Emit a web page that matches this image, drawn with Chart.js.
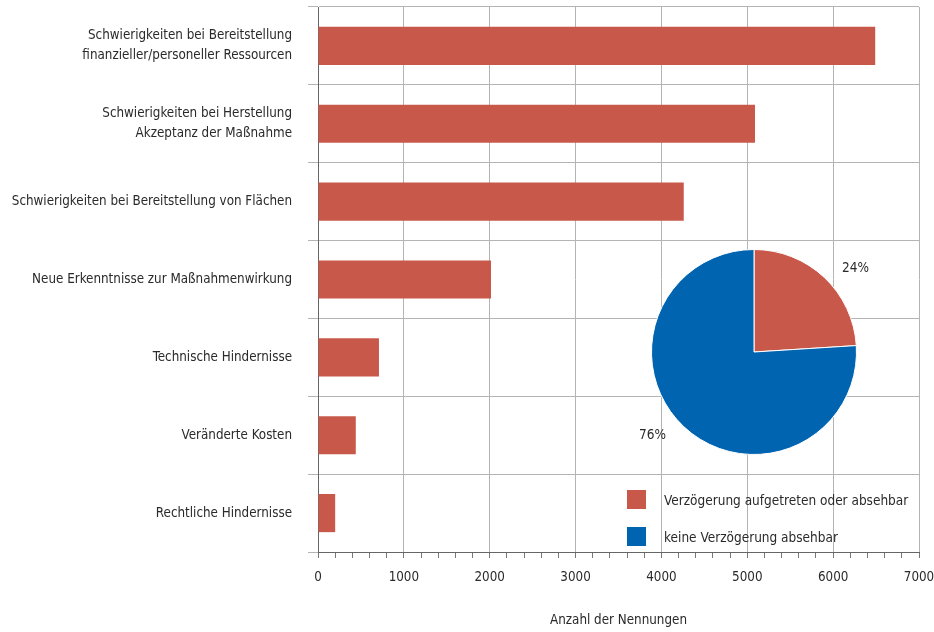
<!DOCTYPE html>
<html lang="de">
<head>
<meta charset="utf-8">
<title>Verzögerungen bei Maßnahmen</title>
<script src="https://cdn.jsdelivr.net/npm/chart.js@4"></script>
<style>
  html, body { margin: 0; padding: 0; background: #fff; }
  #wrap { position: relative; width: 934px; height: 632px; }
  #barChart { position: absolute; left: 0; top: 0; }
  #pieChart { position: absolute; left: 604px; top: 202px; }
  .legend { position: absolute; left: 627px; top: 490px; font: 13.5px 'DejaVu Sans Condensed', 'Liberation Sans Narrow', sans-serif; color: #2a2a2a; white-space: nowrap; }
  .legend .item { display: flex; align-items: center; height: 19px; margin-bottom: 18px; }
  .legend .box { width: 19px; height: 19px; margin-right: 18px; }
</style>
</head>
<body>
<div id="wrap">
  <canvas id="barChart" width="934" height="632"></canvas>
  <canvas id="pieChart" width="300" height="300"></canvas>
  <div class="legend" id="legend"></div>
</div>
<script>
// Gründe für Verzögerungen (Anzahl der Nennungen)
const categories = [
    ['Schwierigkeiten bei Bereitstellung', 'finanzieller/personeller Ressourcen'],
    ['Schwierigkeiten bei Herstellung', 'Akzeptanz der Maßnahme'],
    'Schwierigkeiten bei Bereitstellung von Flächen',
    'Neue Erkenntnisse zur Maßnahmenwirkung',
    'Technische Hindernisse',
    'Veränderte Kosten',
    'Rechtliche Hindernisse'
];
const counts = [6490, 5090, 4260, 2015, 710, 440, 200];

// Anteil der Maßnahmen mit / ohne Verzögerung (%)
const pieLabels = ['Verzögerung aufgetreten oder absehbar', 'keine Verzögerung absehbar'];
const pieValues = [24, 76];

const xMax = 7000;
const xMajor = 1000;
const xMinor = 200;

const RED = '#C8584A';
const BLUE = '#0064B0';
const TEXT = '#2a2a2a';
const FONT = "'DejaVu Sans Condensed', 'Liberation Sans Narrow', sans-serif";

Chart.defaults.font.family = FONT;
Chart.defaults.font.size = 13.3;
Chart.defaults.color = TEXT;

new Chart(document.getElementById('barChart'), {
    type: 'bar',
    data: {
        labels: categories,
        datasets: [{
            data: counts,
            backgroundColor: RED,
            borderWidth: 0,
            barPercentage: 0.49,
            categoryPercentage: 1
        }]
    },
    options: {
        indexAxis: 'y',
        responsive: false,
        animation: false,
        layout: { padding: { left: 0, top: 7, right: 15, bottom: 0 } },
        plugins: { legend: { display: false }, tooltip: { enabled: false } },
        scales: {
            x: {
                min: 0,
                max: xMax,
                afterFit: s => {
                    s.height = 80;
                    s.paddingLeft = 0;
                    s.paddingRight = 0;
                },
                ticks: {
                    stepSize: xMinor,
                    autoSkip: false,
                    maxRotation: 0,
                    padding: 12,
                    callback: v => (v % xMajor === 0 ? String(v) : '')
                },
                grid: {
                    color: c => (c.tick && c.tick.value % xMajor === 0 ? '#b4b4b4' : 'rgba(0,0,0,0)'),
                    tickColor: '#777',
                    tickLength: 6
                },
                border: { color: '#666' },
                title: {
                    display: true,
                    text: 'Anzahl der Nennungen',
                    padding: { top: 0, bottom: 3 }
                }
            },
            y: {
                afterFit: s => {
                    s.width = 318;
                    s.paddingTop = 0;
                    s.paddingBottom = 0;
                },
                ticks: {
                    padding: 16,
                    font: { lineHeight: 1.5 }
                },
                grid: {
                    offset: true,
                    color: '#b4b4b4',
                    tickLength: 10
                },
                border: { color: '#666' }
            }
        }
    }
});

// Prozentwerte außerhalb der Kreissegmente
const pieValueLabels = {
    id: 'pieValueLabels',
    afterDatasetsDraw(chart) {
        const ctx = chart.ctx;
        const meta = chart.getDatasetMeta(0);
        ctx.save();
        ctx.font = '13.5px ' + FONT;
        ctx.fillStyle = TEXT;
        ctx.textAlign = 'center';
        ctx.textBaseline = 'middle';
        meta.data.forEach((arc, i) => {
            const p = arc.getProps(['x', 'y', 'startAngle', 'endAngle', 'outerRadius'], true);
            // etwas hinter die Segmentmitte gedreht
            const mid = (p.startAngle + p.endAngle) / 2 + 0.13;
            const r = p.outerRadius * 1.28;
            ctx.fillText(pieValues[i] + '%', p.x + Math.cos(mid) * r, p.y + Math.sin(mid) * r);
        });
        ctx.restore();
    }
};

new Chart(document.getElementById('pieChart'), {
    type: 'pie',
    data: {
        labels: pieLabels,
        datasets: [{
            data: pieValues,
            backgroundColor: [RED, BLUE],
            borderColor: '#fff',
            borderWidth: 1
        }]
    },
    options: {
        responsive: false,
        animation: false,
        layout: { padding: 47 },
        plugins: { legend: { display: false }, tooltip: { enabled: false } }
    },
    plugins: [pieValueLabels]
});

// Legende
const legendEl = document.getElementById('legend');
pieLabels.forEach((label, i) => {
    const item = document.createElement('div');
    item.className = 'item';
    const box = document.createElement('span');
    box.className = 'box';
    box.style.background = [RED, BLUE][i];
    const txt = document.createElement('span');
    txt.textContent = label;
    item.appendChild(box);
    item.appendChild(txt);
    legendEl.appendChild(item);
});
</script>
</body>
</html>
